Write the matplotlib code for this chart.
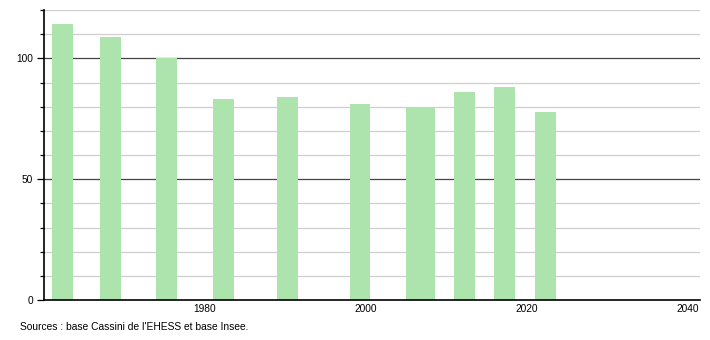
import numpy as np
import matplotlib
matplotlib.use("Agg")
import matplotlib.pyplot as plt
from matplotlib.ticker import MultipleLocator

# Données : recensements (année, population)
years = [1962, 1968, 1975, 1982, 1990, 1999, 2006, 2007, 2012, 2017, 2022]
population = [114, 109, 100, 83, 84, 81, 80, 80, 86, 88, 78]
x_ticks = [1980, 2000, 2020, 2040]
y_major = [0, 50, 100]
source_text = "Sources : base Cassini de l'EHESS et base Insee."

plt.rcParams["font.family"] = ["Liberation Sans", "DejaVu Sans"]

fig = plt.figure(figsize=(7.1, 3.4), dpi=100)
ax = fig.add_axes([0.062, 0.1176, 0.924, 0.853])

# grille : claire tous les 10, foncée aux graduations majeures
for v in range(10, 121, 10):
    if v in y_major:
        ax.axhline(v, color="#444444", linewidth=0.9, zorder=1)
    else:
        ax.axhline(v, color="#cfcfcf", linewidth=0.9, zorder=1)

ax.bar(np.array(years) + 0.25, population, width=2.6,
       color="#ade4ad", edgecolor="none", zorder=2)

ax.set_xlim(1960, 2041.5)
ax.set_ylim(0, 120)
ax.set_xticks(x_ticks)
ax.set_yticks(y_major)
ax.yaxis.set_minor_locator(MultipleLocator(10))

ax.tick_params(axis="x", length=0, labelsize=7.3, pad=3)
ax.tick_params(axis="y", which="major", length=5, width=0.9, labelsize=7.3, pad=3)
ax.tick_params(axis="y", which="minor", length=3, width=0.9)

for side in ("top", "right"):
    ax.spines[side].set_visible(False)
for side in ("left", "bottom"):
    ax.spines[side].set_color("black")
    ax.spines[side].set_linewidth(1.2)

fig.text(20 / 710, 1 - 327 / 340, source_text, fontsize=7.4,
         ha="left", va="center")

fig.savefig("out.png", dpi=100)
